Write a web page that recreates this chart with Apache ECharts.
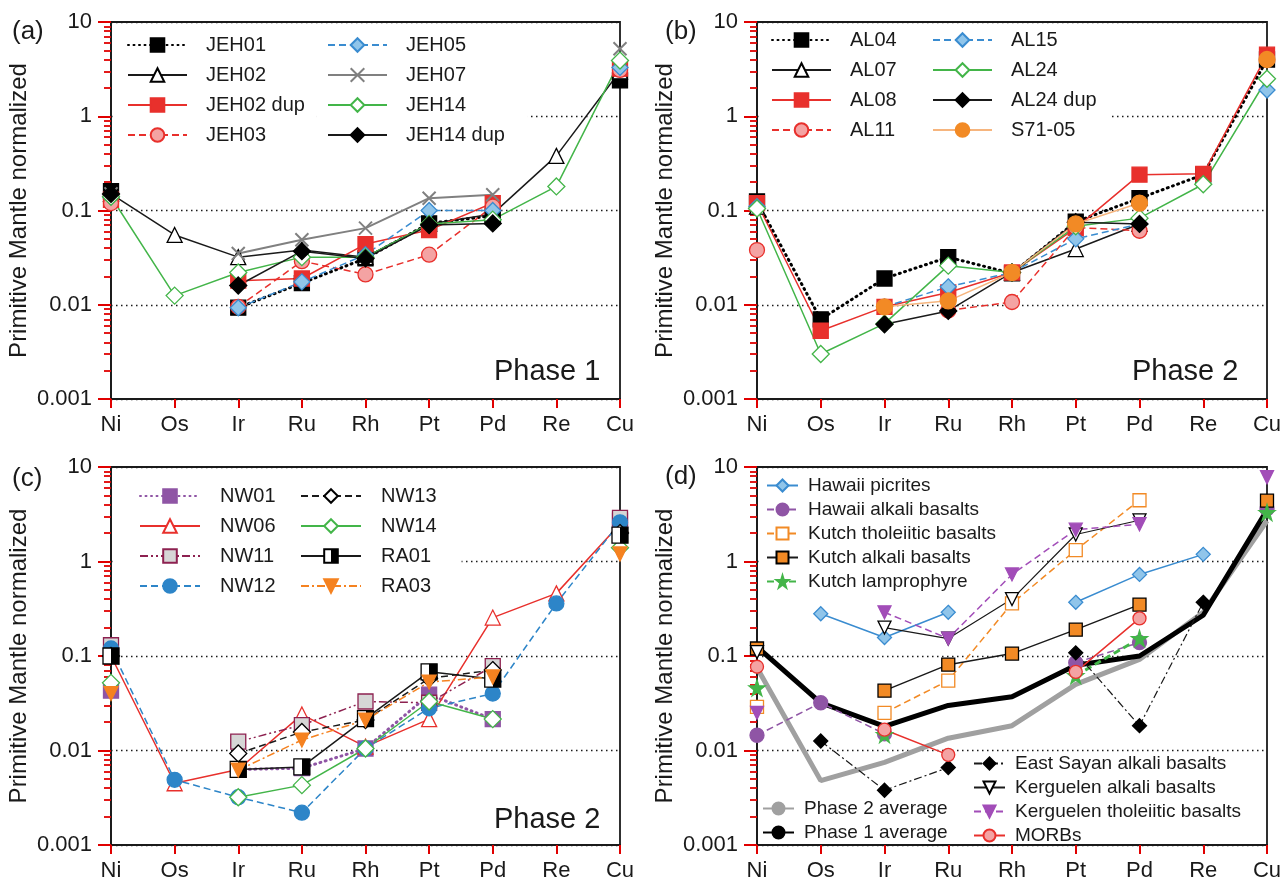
<!DOCTYPE html>
<html>
<head>
<meta charset="utf-8">
<script src="https://cdn.jsdelivr.net/npm/echarts@6/dist/echarts.min.js"></script>
<style>
  html, body { margin: 0; padding: 0; background: #fff; }
  #chart { width: 1285px; height: 884px; }
</style>
</head>
<body>
<div id="chart"></div>
<script>
// element order on the x axis
var elements = ['Ni', 'Os', 'Ir', 'Ru', 'Rh', 'Pt', 'Pd', 'Re', 'Cu'];
var yTickLabels = ['0.001', '0.01', '0.1', '1', '10'];

// (a) Phase 1
var jeh01    = [0.16, null, 0.0093, 0.017, 0.031, 0.073, 0.088, null, 2.4];
var jeh02    = [0.15, 0.055, 0.032, 0.038, 0.032, 0.072, 0.092, 0.38, 3.0];
var jeh02dup = [0.13, null, 0.018, 0.019, 0.044, 0.062, 0.12, null, 3.2];
var jeh03    = [0.12, null, 0.0095, 0.029, 0.021, 0.034, 0.11, null, 3.1];
var jeh05    = [0.14, null, 0.0093, 0.0175, 0.034, 0.1, 0.1, null, 3.3];
var jeh07    = [0.15, null, 0.035, 0.049, 0.065, 0.135, 0.147, null, 5.2];
var jeh14    = [0.14, 0.0125, 0.022, 0.032, 0.032, 0.072, 0.08, 0.18, 3.9];
var jeh14dup = [0.15, null, 0.016, 0.037, 0.031, 0.07, 0.073, null, null];

// (b) Phase 2
var al04    = [0.125, 0.007, 0.019, 0.032, 0.0215, 0.076, 0.135, 0.24, 4.0];
var al07    = [0.11, null, null, null, 0.022, 0.039, 0.072, null, null];
var al08    = [0.12, 0.0053, 0.0095, 0.0135, 0.022, 0.065, 0.24, 0.245, 4.5];
var al11    = [0.038, null, null, 0.0087, 0.0107, 0.066, 0.061, null, null];
var al15    = [0.11, null, 0.0095, 0.0155, 0.022, 0.05, 0.072, null, 1.9];
var al24    = [0.105, 0.003, 0.0063, 0.026, 0.022, 0.068, 0.083, 0.19, 2.5];
var al24dup = [null, null, 0.0062, 0.0086, 0.022, 0.075, 0.072, null, null];
var s7105   = [null, null, 0.0095, 0.011, 0.022, 0.072, 0.12, null, 4.0];

// (c) Phase 2
var nw01 = [0.043, null, 0.0063, 0.0065, 0.0105, 0.039, 0.0215, null, 2.7];
var nw06 = [0.1, 0.0045, 0.0063, 0.024, 0.011, 0.0215, 0.255, 0.46, 2.5];
var nw11 = [0.13, null, 0.0124, 0.0186, 0.033, 0.032, 0.078, null, 2.9];
var nw12 = [0.12, 0.0049, 0.0032, 0.0022, 0.0105, 0.028, 0.04, 0.36, 2.6];
var nw13 = [0.1, null, 0.0093, 0.0157, 0.021, 0.058, 0.071, null, 2.0];
var nw14 = [0.052, null, 0.0032, 0.0043, 0.0105, 0.033, 0.0215, null, 1.4];
var ra01 = [0.1, null, 0.0063, 0.0067, 0.0217, 0.068, 0.057, null, 1.9];
var ra03 = [0.04, null, 0.0062, 0.0129, 0.021, 0.053, 0.06, null, 1.2];

// (d) comparison
var hawaiiPicrites  = [null, 0.28, 0.157, 0.29, null, 0.37, 0.73, 1.19, null];
var hawaiiAlkali    = [0.0145, 0.032, 0.015, null, null, 0.085, 0.139, null, 3.6];
var kutchTholeiitic = [0.029, null, 0.025, 0.055, 0.36, 1.32, 4.45, null, 10.8];
var kutchAlkali     = [0.12, null, 0.043, 0.081, 0.106, 0.19, 0.35, null, 4.4];
var kutchLamp       = [0.046, null, 0.0148, null, null, 0.062, 0.153, null, 3.3];
var eastSayan       = [null, 0.0126, 0.0038, 0.0066, null, 0.108, 0.0183, 0.37, null];
var kergAlkali      = [0.11, null, 0.2, 0.153, 0.4, 1.93, 2.73, null, 10.8];
var kergTholeiitic  = [0.025, null, 0.29, 0.153, 0.73, 2.17, 2.48, null, 7.8];
var morbs           = [0.077, null, 0.0166, 0.009, null, 0.068, 0.25, null, null];
var phase2Avg       = [0.075, 0.0048, 0.0075, 0.0135, 0.0183, 0.05, 0.092, 0.29, 2.7];
var phase1Avg       = [0.125, 0.032, 0.018, 0.03, 0.037, 0.08, 0.1, 0.27, 3.5];

var FONT = '"Liberation Sans", Arial, sans-serif';
var INK = '#1a1a1a';
var TICK = '#e00000'; // temporary, to check that the ticks are drawn

var SQ = 'rect', TRI = 'triangle', DIA = 'diamond', CIR = 'circle';
var DOWN = 'path://M0,0L10,0L5,9Z';
var XSYM = 'path://M0,0L10,10M10,0L0,10';
var STAR = 'path://M50,0L61,35L98,35L68,57L79,91L50,70L21,91L32,57L2,35L39,35Z';
var DOT = [1, 4.5], DASH = [7, 4], DASHDOT = [8, 3, 2, 3], DASHDOTDOT = [8, 3, 2, 3, 2, 3];

var halfSquare = new echarts.graphic.LinearGradient(0, 0, 1, 0, [
    {offset: 0, color: '#fff'}, {offset: 0.5, color: '#fff'},
    {offset: 0.5, color: '#000'}, {offset: 1, color: '#000'}
]);

// line colour, width, dash, symbol, size, fill, border
var styles = {
    'JEH01':     {c: '#000', w: 3, t: DOT, cap: 'round', s: SQ, n: 15, f: '#000', b: '#000'},
    'JEH02':     {c: INK, w: 1.5, s: TRI, n: 15, f: '#fff', b: '#000'},
    'JEH02 dup': {c: '#e8302c', w: 1.5, s: SQ, n: 15, f: '#e8302c', b: '#e8302c'},
    'JEH03':     {c: '#e8302c', w: 1.5, t: DASH, s: CIR, n: 15, f: '#f4a3a3', b: '#e8302c'},
    'JEH05':     {c: '#3a8cd0', w: 1.5, t: DASH, s: DIA, n: 16, f: '#90c5ea', b: '#3a8cd0'},
    'JEH07':     {c: '#808080', w: 2, s: XSYM, n: 13, f: '#808080', b: '#808080', bw: 2},
    'JEH14':     {c: '#43b549', w: 1.5, s: DIA, n: 17, f: '#fff', b: '#43b549'},
    'JEH14 dup': {c: INK, w: 1.5, s: DIA, n: 17, f: '#000', b: '#000'},

    'AL04':     {c: '#000', w: 3, t: DOT, cap: 'round', s: SQ, n: 15, f: '#000', b: '#000'},
    'AL07':     {c: INK, w: 1.5, s: TRI, n: 15, f: '#fff', b: '#000'},
    'AL08':     {c: '#e8302c', w: 1.5, s: SQ, n: 15, f: '#e8302c', b: '#e8302c'},
    'AL11':     {c: '#e8302c', w: 1.5, t: DASH, s: CIR, n: 15, f: '#f4a3a3', b: '#e8302c'},
    'AL15':     {c: '#3a8cd0', w: 1.5, t: DASH, s: DIA, n: 16, f: '#90c5ea', b: '#3a8cd0'},
    'AL24':     {c: '#43b549', w: 1.5, s: DIA, n: 17, f: '#fff', b: '#43b549'},
    'AL24 dup': {c: INK, w: 1.5, s: DIA, n: 17, f: '#000', b: '#000'},
    'S71-05':   {c: '#f6b57e', w: 1.5, s: CIR, n: 16, f: '#f28a25', b: '#f28a25'},

    'NW01': {c: '#8f55a5', w: 3, t: DOT, cap: 'round', s: SQ, n: 15, f: '#8f55a5', b: '#8f55a5'},
    'NW06': {c: '#e8302c', w: 1.5, s: TRI, n: 15, f: '#fff', b: '#e8302c'},
    'NW11': {c: '#8d2150', w: 1.5, t: DASHDOTDOT, s: SQ, n: 15, f: '#d6d6d6', b: '#8d2150'},
    'NW12': {c: '#2d85c8', w: 1.5, t: DASH, s: CIR, n: 15, f: '#2d85c8', b: '#2d85c8'},
    'NW13': {c: INK, w: 1.5, t: DASH, s: DIA, n: 17, f: '#fff', b: '#000'},
    'NW14': {c: '#43b549', w: 1.5, s: DIA, n: 17, f: '#fff', b: '#43b549'},
    'RA01': {c: INK, w: 1.5, s: SQ, n: 16, f: halfSquare, b: '#000'},
    'RA03': {c: '#f58220', w: 1.5, t: DASHDOT, s: DOWN, n: 14, f: '#f58220', b: '#f58220'},

    'Hawaii picrites':              {c: '#3a8cd0', w: 1.5, s: DIA, n: 14, f: '#90c5ea', b: '#3a8cd0'},
    'Hawaii alkali basalts':        {c: '#8f55a5', w: 1.5, t: DASH, s: CIR, n: 14, f: '#8f55a5', b: '#8f55a5'},
    'Kutch tholeiitic basalts':     {c: '#f28a25', w: 1.5, t: DASH, s: SQ, n: 13, f: '#fff', b: '#f28a25'},
    'Kutch alkali basalts':         {c: INK, w: 1.5, s: SQ, n: 13, f: '#f28a25', b: '#000'},
    'Kutch lamprophyre':            {c: '#43b549', w: 3, t: DASH, s: STAR, n: 16, f: '#43b549', b: '#43b549'},
    'East Sayan alkali basalts':    {c: INK, w: 1.2, t: DASHDOT, s: DIA, n: 14, f: '#000', b: '#000'},
    'Kerguelen alkali basalts':     {c: INK, w: 1.2, s: DOWN, n: 13, f: '#fff', b: '#000'},
    'Kerguelen tholeiitic basalts': {c: '#a24db8', w: 1.5, t: DASH, s: DOWN, n: 13, f: '#a24db8', b: '#a24db8'},
    'MORBs':                        {c: '#e8302c', w: 1.5, s: CIR, n: 13, f: '#f4a3a3', b: '#e8302c'},
    'Phase 2 average':              {c: '#a0a0a0', w: 5, s: 'none', n: 0, f: '#a0a0a0', b: '#a0a0a0'},
    'Phase 1 average':              {c: '#000', w: 5, s: 'none', n: 0, f: '#000', b: '#000'}
};

var panels = [
    {names: ['JEH01', 'JEH02', 'JEH02 dup', 'JEH03', 'JEH05', 'JEH07', 'JEH14', 'JEH14 dup'],
     data: [jeh01, jeh02, jeh02dup, jeh03, jeh05, jeh07, jeh14, jeh14dup]},
    {names: ['AL04', 'AL07', 'AL08', 'AL11', 'AL15', 'AL24', 'AL24 dup', 'S71-05'],
     data: [al04, al07, al08, al11, al15, al24, al24dup, s7105]},
    {names: ['NW01', 'NW06', 'NW11', 'NW12', 'NW13', 'NW14', 'RA01', 'RA03'],
     data: [nw01, nw06, nw11, nw12, nw13, nw14, ra01, ra03]},
    {names: ['Phase 2 average', 'Phase 1 average', 'Hawaii picrites', 'Hawaii alkali basalts',
             'Kutch tholeiitic basalts', 'Kutch alkali basalts', 'Kutch lamprophyre',
             'East Sayan alkali basalts', 'Kerguelen alkali basalts', 'Kerguelen tholeiitic basalts', 'MORBs'],
     data: [phase2Avg, phase1Avg, hawaiiPicrites, hawaiiAlkali, kutchTholeiitic, kutchAlkali, kutchLamp,
            eastSayan, kergAlkali, kergTholeiitic, morbs]}
];

var gridBoxes = [
    {left: 111, top: 22, width: 509, height: 377},
    {left: 757, top: 22, width: 510, height: 377},
    {left: 111, top: 467, width: 509, height: 378},
    {left: 757, top: 467, width: 510, height: 378}
];

var grids = [], xAxes = [], yAxes = [], series = [];
gridBoxes.forEach(function(g, gi) {
    grids.push({
        left: g.left, top: g.top, width: g.width, height: g.height,
        show: true, borderColor: INK, borderWidth: 1.8
    });
    xAxes.push({
        type: 'category', gridIndex: gi, data: elements, boundaryGap: false,
        axisLine: {show: true, lineStyle: {color: INK, width: 1.8}},
        axisTick: {show: true, interval: 0, length: 9, lineStyle: {color: TICK, width: 2}},
        axisLabel: {fontSize: 22, color: INK, margin: 15, fontFamily: FONT},
        splitLine: {show: false}
    });
    yAxes.push({
        type: 'log', gridIndex: gi, logBase: 10, min: 0.001, max: 10,
        name: 'Primitive Mantle normalized', nameLocation: 'middle', nameGap: 80,
        nameTextStyle: {fontSize: 24, color: INK, fontFamily: FONT},
        axisLine: {show: true, lineStyle: {color: INK, width: 1.8}},
        axisTick: {show: true, length: 13, lineStyle: {color: TICK, width: 2}},
        minorTick: {show: true, splitNumber: 9, length: 7, lineStyle: {color: TICK, width: 1.8}},
        axisLabel: {
            fontSize: 22, color: INK, margin: 19, fontFamily: FONT,
            formatter: function(v) { return yTickLabels[Math.round(Math.log10(v)) + 3]; }
        },
        splitLine: {show: true, lineStyle: {type: [1.5, 3.5], color: INK, width: 1.4}}
    });
    panels[gi].names.forEach(function(name, si) {
        var s = styles[name];
        series.push({
            name: name, type: 'line', xAxisIndex: gi, yAxisIndex: gi,
            data: panels[gi].data[si], connectNulls: false,
            symbol: s.s, symbolSize: s.n, showSymbol: s.s !== 'none',
            lineStyle: {color: s.c, width: s.w, type: s.t || 'solid', cap: s.cap || 'butt'},
            itemStyle: {color: s.f, borderColor: s.b, borderWidth: s.bw || 1.3},
            z: 5
        });
    });
});

function legend(names, left, top, pad, o) {
    return {
        data: names, orient: 'vertical', left: left, top: top, padding: pad, z: 4,
        itemWidth: o.iw, itemHeight: o.ih, itemGap: o.gap,
        backgroundColor: o.bg || 'transparent', selectedMode: false,
        textStyle: {fontSize: o.fs, color: INK, fontFamily: FONT, padding: [0, 0, 0, o.tp]}
    };
}
var big = {iw: 59, ih: 17, gap: 10, fs: 20, tp: 14, bg: '#fff'};
var bigC = {iw: 60, ih: 17, gap: 10, fs: 20, tp: 15, bg: '#fff'};
var small = {iw: 31, ih: 15, gap: 5, fs: 19, tp: 5, bg: '#fff'};
var smallClear = {iw: 31, ih: 15, gap: 5, fs: 19, tp: 5};

var legends = [
    legend(['JEH01', 'JEH02', 'JEH02 dup', 'JEH03'], 113, 27, [8, 12, 8, 14], big),
    legend(['JEH05', 'JEH07', 'JEH14', 'JEH14 dup'], 317, 27, [8, 23, 8, 10], big),
    legend(['AL04', 'AL07', 'AL08', 'AL11'], 759, 24, [6, 25, 6, 12], big),
    legend(['AL15', 'AL24', 'AL24 dup', 'S71-05'], 922, 24, [6, 13, 6, 10], big),
    legend(['NW01', 'NW06', 'NW11', 'NW12'], 113, 480, [6, 19, 6, 26], bigC),
    legend(['NW13', 'NW14', 'RA01', 'RA03'], 290, 480, [6, 25, 6, 10], bigC),
    legend(['Hawaii picrites', 'Hawaii alkali basalts', 'Kutch tholeiitic basalts',
            'Kutch alkali basalts', 'Kutch lamprophyre'], 759, 470, [6, 41, 6, 7], small),
    legend(['Phase 2 average', 'Phase 1 average'], 758, 797, [2, 4, 2, 4], smallClear),
    legend(['East Sayan alkali basalts', 'Kerguelen alkali basalts',
            'Kerguelen tholeiitic basalts', 'MORBs'], 969, 752, [2, 4, 2, 4], smallClear)
];

function label(text, left, top, size) {
    return {
        text: text, left: left, top: top, padding: 0,
        textStyle: {fontSize: size, fontWeight: 'normal', color: INK, fontFamily: FONT}
    };
}
var titles = [
    label('(a)', 12, 19, 26), label('(b)', 665, 19, 26),
    label('(c)', 12, 466, 26), label('(d)', 665, 464, 26),
    label('Phase 1', 494, 357, 29), label('Phase 2', 1132, 357, 29),
    label('Phase 2', 494, 805, 29)
];

var myEchart = echarts.init(document.getElementById('chart'), null, {renderer: 'canvas'});
myEchart.setOption({
    animation: false,
    backgroundColor: '#fff',
    title: titles,
    legend: legends,
    grid: grids,
    xAxis: xAxes,
    yAxis: yAxes,
    series: series
});
</script>
</body>
</html>
